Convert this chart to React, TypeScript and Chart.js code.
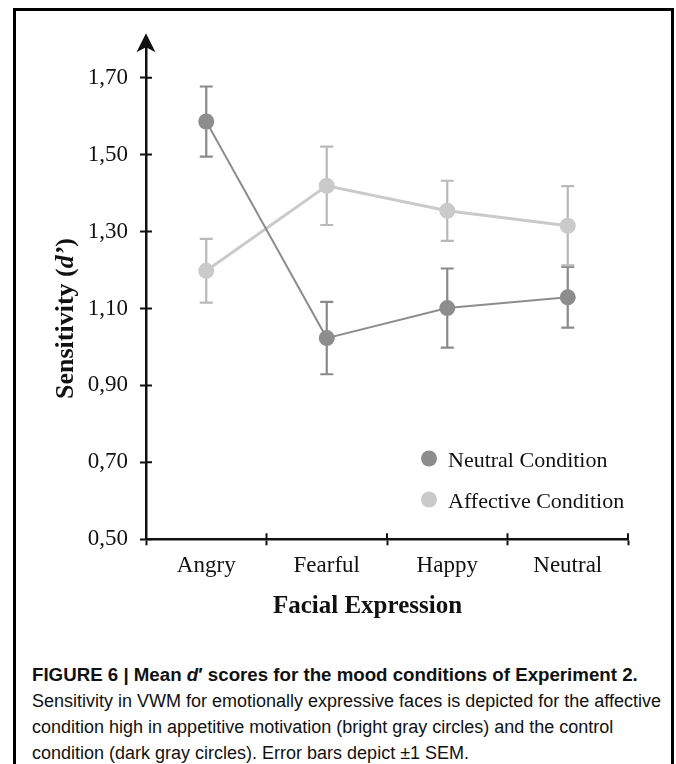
import React, { useEffect, useRef } from 'react';
import { Chart, registerables } from 'chart.js';

Chart.register(...registerables);

const categories = ['Angry', 'Fearful', 'Happy', 'Neutral'];
const seriesLabels = ['Neutral Condition', 'Affective Condition'];
const neutralMeans = [1.586, 1.023, 1.101, 1.129];
const neutralSem = [0.091, 0.094, 0.103, 0.079];
const affectiveMeans = [1.198, 1.419, 1.354, 1.315];
const affectiveSem = [0.083, 0.102, 0.078, 0.103];
const yTickValues = [0.5, 0.7, 0.9, 1.1, 1.3, 1.5, 1.7];
const yMin = 0.5;
const yMax = 1.8;
const xTitle = 'Facial Expression';
const yTitleParts = ['Sensitivity (', 'd’', ')'];

const SERIF = '"Liberation Serif", "Times New Roman", serif';
const AXIS = '#111111';
const DARK = '#8d8d8d';
const LIGHT = '#cacaca';
const DARK_ERR = '#8a8a8a';
const LIGHT_ERR = '#b9b9b9';

const semBySeries = [neutralSem, affectiveSem];
const errColors = [DARK_ERR, LIGHT_ERR];

const decorPlugin = {
  id: 'decor',
  beforeDatasetsDraw(chart: any) {
    const ctx = chart.ctx;
    const ys = chart.scales.y;
    ctx.save();
    chart.data.datasets.forEach((ds: any, di: number) => {
      const meta = chart.getDatasetMeta(di);
      ctx.strokeStyle = errColors[di];
      ctx.lineWidth = 2.2;
      meta.data.forEach((pt: any, i: number) => {
        const m = ds.data[i];
        const s = semBySeries[di][i];
        const x = pt.x;
        const yh = ys.getPixelForValue(m + s);
        const yl = ys.getPixelForValue(m - s);
        ctx.beginPath();
        ctx.moveTo(x, yh);
        ctx.lineTo(x, yl);
        ctx.moveTo(x - 6.5, yh);
        ctx.lineTo(x + 6.5, yh);
        ctx.moveTo(x - 6.5, yl);
        ctx.lineTo(x + 6.5, yl);
        ctx.stroke();
      });
    });
    ctx.restore();
  },
  afterDraw(chart: any) {
    const ctx = chart.ctx;
    const area = chart.chartArea;
    const xs = chart.scales.x;
    const ys = chart.scales.y;
    ctx.save();
    // inward halves of tick marks
    ctx.strokeStyle = AXIS;
    ctx.lineWidth = 2;
    ctx.beginPath();
    yTickValues.forEach((v) => {
      const y = ys.getPixelForValue(v);
      ctx.moveTo(area.left, y);
      ctx.lineTo(area.left + 6, y);
    });
    const step = xs.getPixelForValue(1) - xs.getPixelForValue(0);
    for (let i = 0; i < categories.length; i++) {
      const x = xs.getPixelForValue(i) + step / 2;
      ctx.moveTo(x, area.bottom);
      ctx.lineTo(x, area.bottom - 6);
    }
    ctx.stroke();
    // arrow head on y axis
    const ax = area.left;
    const tip = area.top - 6;
    ctx.fillStyle = AXIS;
    ctx.beginPath();
    ctx.moveTo(ax, tip);
    ctx.lineTo(ax + 9.5, tip + 19);
    ctx.lineTo(ax, tip + 14);
    ctx.lineTo(ax - 9.5, tip + 19);
    ctx.closePath();
    ctx.fill();
    // x title
    ctx.fillStyle = AXIS;
    ctx.font = 'bold 25px ' + SERIF;
    ctx.textAlign = 'center';
    ctx.textBaseline = 'alphabetic';
    ctx.fillText(xTitle, 367.5, 613);
    // y title (rotated, with italic d')
    const fonts = ['bold 26px ' + SERIF, 'italic bold 26px ' + SERIF, 'bold 26px ' + SERIF];
    const widths = yTitleParts.map((t, i) => {
      ctx.font = fonts[i];
      return ctx.measureText(t).width;
    });
    const total = widths.reduce((a, b) => a + b, 0);
    ctx.translate(73, 318.5);
    ctx.rotate(-Math.PI / 2);
    ctx.textAlign = 'left';
    let px = -total / 2;
    yTitleParts.forEach((t, i) => {
      ctx.font = fonts[i];
      ctx.fillText(t, px, 0);
      px += widths[i];
    });
    ctx.setTransform(1, 0, 0, 1, 0, 0);
    // legend
    chart.data.datasets.forEach((ds: any, di: number) => {
      const cy = 458.5 + di * 41;
      ctx.fillStyle = ds.pointBackgroundColor;
      ctx.beginPath();
      ctx.arc(429, cy, 8, 0, Math.PI * 2);
      ctx.fill();
      ctx.fillStyle = AXIS;
      ctx.font = '22px ' + SERIF;
      ctx.textAlign = 'left';
      ctx.textBaseline = 'alphabetic';
      ctx.fillText(ds.label, 448, cy + 8);
    });
    ctx.restore();
  },
};

function ChartCanvas() {
  const ref = useRef<HTMLCanvasElement | null>(null);
  useEffect(() => {
    if (!ref.current) return;
    const chart = new Chart(ref.current, {
      type: 'line',
      data: {
        labels: categories,
        datasets: [
          {
            label: seriesLabels[0],
            data: neutralMeans,
            borderColor: DARK,
            borderWidth: 2,
            pointBackgroundColor: DARK,
            pointBorderWidth: 0,
            pointRadius: 8,
            pointHoverRadius: 8,
            tension: 0,
          },
          {
            label: seriesLabels[1],
            data: affectiveMeans,
            borderColor: LIGHT,
            borderWidth: 3,
            pointBackgroundColor: LIGHT,
            pointBorderWidth: 0,
            pointRadius: 8,
            pointHoverRadius: 8,
            tension: 0,
          },
        ],
      },
      options: {
        responsive: false,
        animation: false,
        devicePixelRatio: 1,
        layout: { padding: { top: 39.2, right: 48, left: 0, bottom: 0 } },
        plugins: {
          legend: { display: false },
          tooltip: { enabled: false },
          title: { display: false },
        },
        scales: {
          x: {
            type: 'category',
            offset: true,
            grid: {
              display: true,
              offset: true,
              drawOnChartArea: false,
              drawTicks: true,
              tickLength: 6,
              tickWidth: 2,
              tickColor: AXIS,
            },
            border: { display: true, color: AXIS, width: 2.5 },
            ticks: {
              color: AXIS,
              font: { family: SERIF, size: 23 },
              padding: 7,
              maxRotation: 0,
              autoSkip: false,
            },
            afterFit: (s: any) => {
              s.height = 100.7;
            },
          },
          y: {
            type: 'linear',
            min: yMin,
            max: yMax,
            afterBuildTicks: (s: any) => {
              s.ticks = yTickValues.map((v) => ({ value: v }));
            },
            grid: {
              display: true,
              drawOnChartArea: false,
              drawTicks: true,
              tickLength: 6,
              tickWidth: 2,
              tickColor: AXIS,
            },
            border: { display: true, color: AXIS, width: 2.5 },
            ticks: {
              color: AXIS,
              font: { family: SERIF, size: 23 },
              padding: 12,
              callback: (v: any) => Number(v).toFixed(2).replace('.', ','),
            },
            afterFit: (s: any) => {
              s.width = 146;
            },
          },
        },
      },
      plugins: [decorPlugin],
    } as any);
    return () => chart.destroy();
  }, []);
  return (
    <canvas
      ref={ref}
      width={676}
      height={640}
      style={{ position: 'absolute', left: 0, top: 0, width: 676, height: 640 }}
    />
  );
}

export default function App() {
  return (
    <div
      style={{
        position: 'absolute',
        left: 0,
        top: 0,
        width: 676,
        height: 764,
        overflow: 'hidden',
        background: '#ffffff',
      }}
    >
      <div
        style={{
          position: 'absolute',
          left: 13,
          top: 8,
          width: 661,
          height: 820,
          boxSizing: 'border-box',
          border: '3px solid #000',
        }}
      />
      <ChartCanvas />
      <div
        style={{
          position: 'absolute',
          left: 32,
          top: 662,
          fontFamily: '"Liberation Sans", Arial, Helvetica, sans-serif',
          fontSize: 18,
          lineHeight: '26px',
          color: '#111',
          whiteSpace: 'nowrap',
        }}
      >
        <div style={{ fontWeight: 'bold', fontSize: 18.7 }}>
          FIGURE 6 | Mean <i>d</i>′ scores for the mood conditions of Experiment 2.
        </div>
        <div>Sensitivity in VWM for emotionally expressive faces is depicted for the affective</div>
        <div>condition high in appetitive motivation (bright gray circles) and the control</div>
        <div>condition (dark gray circles). Error bars depict ±1 SEM.</div>
      </div>
    </div>
  );
}
